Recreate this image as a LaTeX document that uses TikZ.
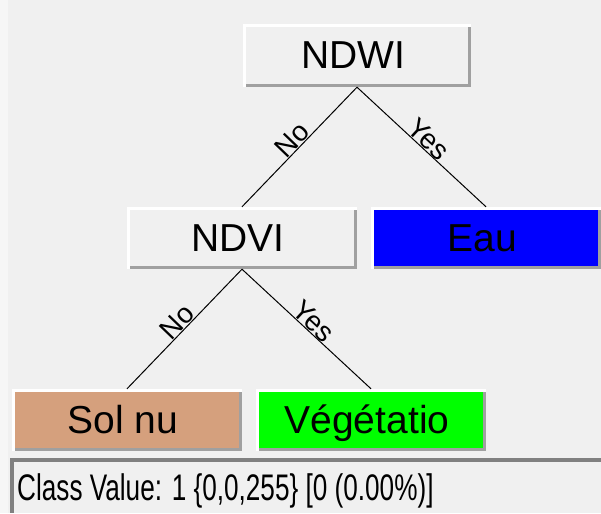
\documentclass[tikz,border=0pt]{standalone}
\usepackage{fontspec}
\setmainfont{Liberation Sans}
\definecolor{panelbg}{HTML}{F0F0F0}
\definecolor{shadowgray}{HTML}{A0A0A0}
\definecolor{framegray}{HTML}{808080}
\definecolor{soil}{HTML}{D5A07D}
\definecolor{water}{HTML}{0000FF}
\definecolor{veg}{HTML}{00FF00}
\begin{document}
\begin{tikzpicture}[x=1pt,y=-1pt,
  winbox/.style={rectangle, inner sep=0pt, fill=#1,
    font=\fontsize{39}{39}\selectfont, text height=29pt, text depth=2pt,
    execute at end node=\kern8pt,
    path picture={
      \fill[white] (path picture bounding box.north west) rectangle ([yshift=-3pt]path picture bounding box.north east);
      \fill[white] (path picture bounding box.north west) rectangle ([xshift=3pt]path picture bounding box.south west);
      \fill[shadowgray] ([shift={(-3pt,-3pt)}]path picture bounding box.north east) rectangle (path picture bounding box.south east);
      \fill[shadowgray] ([shift={(3pt,3pt)}]path picture bounding box.south west) rectangle (path picture bounding box.south east);
    }},
  winbox/.default=panelbg,
  branch/.style={draw=black, line width=1pt},
  edgelbl/.style={sloped, midway, anchor=south, inner sep=0.5pt,
    font=\fontsize{28}{28}\selectfont}
]
% window background
\fill[panelbg] (0,0) rectangle (601,513);
\fill[white!40!panelbg] (0,0) rectangle (8,513);

% tree nodes
\node[winbox, minimum width=228pt, minimum height=63pt] (ndwi) at (357,55.5) {NDWI};
\node[winbox, minimum width=230pt, minimum height=62pt] (ndvi) at (242,238) {NDVI};
\node[winbox=water, minimum width=230pt, minimum height=62pt] (eau) at (486,238) {Eau};
\node[winbox=soil, minimum width=230pt, minimum height=62pt] (sol) at (127,420) {Sol nu};
\node[winbox=veg, minimum width=230pt, minimum height=62pt] (vege) at (371,420) {Végétatio};

% branches
\draw[branch] (ndwi.south) -- (ndvi.north) node[edgelbl] {No};
\draw[branch] (ndwi.south) -- (eau.north) node[edgelbl] {Yes};
\draw[branch] (ndvi.south) -- (sol.north) node[edgelbl] {No};
\draw[branch] (ndvi.south) -- (vege.north) node[edgelbl] {Yes};

% status bar
\node[rectangle, inner sep=0pt, fill=panelbg, minimum width=591pt, minimum height=55pt,
      path picture={
        \fill[framegray] (path picture bounding box.north west) rectangle ([yshift=-4pt]path picture bounding box.north east);
        \fill[framegray] (path picture bounding box.north west) rectangle ([xshift=4pt]path picture bounding box.south west);
      }] (status) at (305.5,485.5) {};
\node[anchor=base west, inner sep=0pt, font=\fontsize{37}{37}\selectfont] (statustext) at (17,500)
  {\scalebox{0.707}[1]{Class Value: 1 \{0,0,255\} [0 (0.00\%)]}};

\useasboundingbox (0,0) rectangle (601,513);
\end{tikzpicture}
\end{document}
